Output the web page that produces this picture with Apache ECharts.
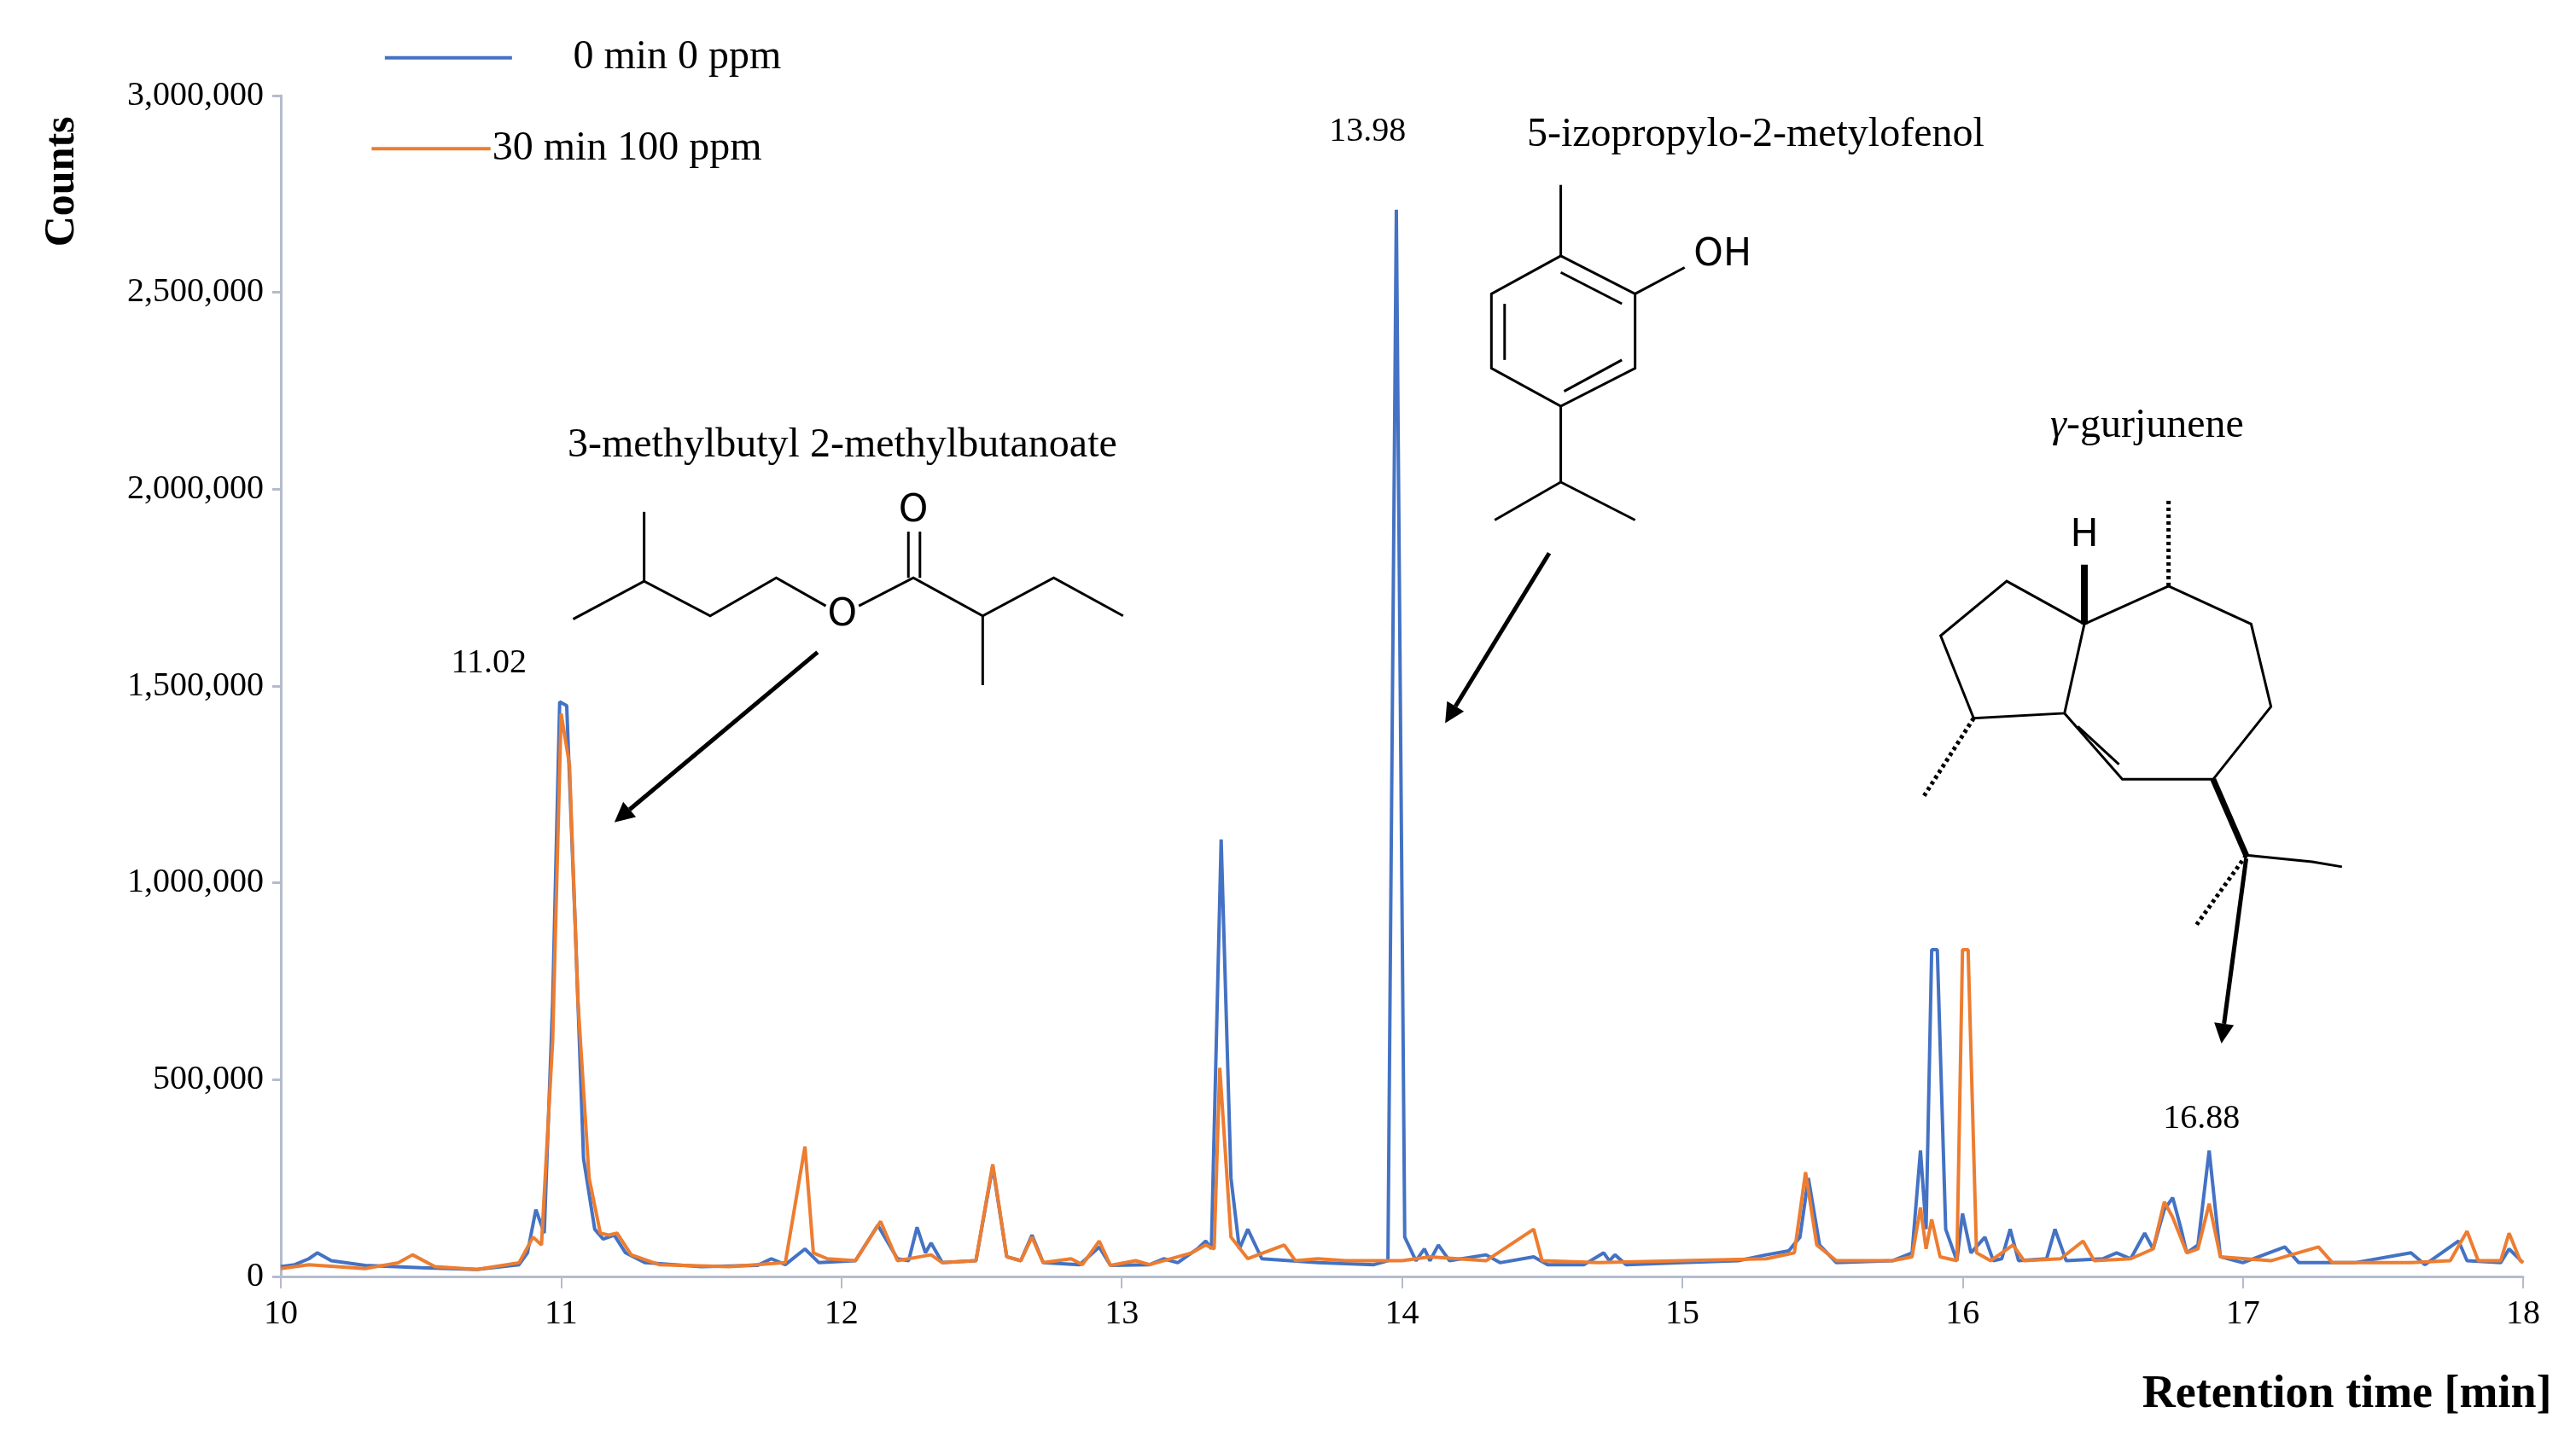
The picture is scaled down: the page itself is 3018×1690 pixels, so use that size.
<!DOCTYPE html>
<html><head><meta charset="utf-8">
<script src="https://cdn.jsdelivr.net/npm/echarts@6/dist/echarts.min.js"></script>
<style>html,body{margin:0;padding:0;background:#fff}#c{width:3018px;height:1690px}</style>
</head><body><div id="c"></div>
<script>
const xTicks = [10,11,12,13,14,15,16,17,18];
const yTicks = [0,500000,1000000,1500000,2000000,2500000,3000000];
const seriesNames = ['0 min 0 ppm','30 min 100 ppm'];
// [retention time, counts]
const blue = [[10,25000],[10.05,30000],[10.1,45000],[10.13,60000],[10.18,40000],[10.3,28000],[10.5,22000],[10.7,18000],[10.85,30000],[10.88,60000],[10.91,170000],[10.94,110000],[10.97,700000],[10.995,1460000],[11.02,1450000],[11.05,900000],[11.08,300000],[11.12,120000],[11.15,95000],[11.19,105000],[11.23,60000],[11.3,35000],[11.5,25000],[11.7,28000],[11.75,45000],[11.8,30000],[11.87,70000],[11.92,35000],[12.05,40000],[12.13,130000],[12.2,45000],[12.24,40000],[12.27,125000],[12.3,60000],[12.32,85000],[12.36,35000],[12.48,40000],[12.54,280000],[12.59,50000],[12.64,40000],[12.68,105000],[12.72,35000],[12.85,30000],[12.92,75000],[12.96,28000],[13.1,30000],[13.15,45000],[13.2,35000],[13.27,70000],[13.3,90000],[13.32,70000],[13.355,1110000],[13.39,250000],[13.42,70000],[13.45,120000],[13.5,45000],[13.7,35000],[13.9,30000],[13.95,40000],[13.98,2710000],[14.01,100000],[14.05,40000],[14.08,70000],[14.1,40000],[14.13,80000],[14.17,40000],[14.3,55000],[14.35,35000],[14.47,50000],[14.52,30000],[14.65,30000],[14.72,60000],[14.74,40000],[14.76,55000],[14.8,30000],[15.0,35000],[15.2,40000],[15.3,55000],[15.38,65000],[15.42,100000],[15.45,250000],[15.49,80000],[15.55,35000],[15.75,40000],[15.82,60000],[15.85,320000],[15.87,120000],[15.89,830000],[15.91,830000],[15.94,120000],[15.98,40000],[16.0,160000],[16.03,60000],[16.08,100000],[16.11,40000],[16.14,45000],[16.17,120000],[16.2,40000],[16.3,45000],[16.33,120000],[16.37,40000],[16.5,45000],[16.55,60000],[16.6,45000],[16.65,110000],[16.68,70000],[16.72,170000],[16.75,200000],[16.78,120000],[16.8,60000],[16.84,80000],[16.88,320000],[16.92,50000],[17.0,35000],[17.15,75000],[17.2,35000],[17.4,35000],[17.6,60000],[17.65,30000],[17.77,90000],[17.8,40000],[17.92,35000],[17.95,70000],[18,35000]];
const orange = [[10,20000],[10.1,30000],[10.3,20000],[10.42,35000],[10.47,55000],[10.55,25000],[10.7,18000],[10.85,35000],[10.9,100000],[10.93,80000],[10.97,600000],[11.0,1430000],[11.03,1300000],[11.06,700000],[11.1,250000],[11.14,110000],[11.17,105000],[11.2,110000],[11.25,55000],[11.35,30000],[11.6,25000],[11.8,35000],[11.87,330000],[11.9,60000],[11.95,45000],[12.05,40000],[12.14,140000],[12.2,40000],[12.32,55000],[12.36,35000],[12.48,40000],[12.54,285000],[12.59,50000],[12.64,40000],[12.68,100000],[12.72,35000],[12.82,45000],[12.86,30000],[12.92,90000],[12.96,28000],[13.05,40000],[13.1,30000],[13.25,60000],[13.3,80000],[13.33,70000],[13.35,530000],[13.39,100000],[13.45,45000],[13.58,80000],[13.62,40000],[13.7,45000],[13.8,40000],[14.0,40000],[14.1,50000],[14.2,45000],[14.3,40000],[14.47,120000],[14.5,40000],[14.7,35000],[15.0,40000],[15.3,45000],[15.4,60000],[15.44,265000],[15.48,80000],[15.55,40000],[15.75,40000],[15.82,50000],[15.85,175000],[15.87,70000],[15.89,145000],[15.92,50000],[15.98,40000],[16.0,830000],[16.02,830000],[16.05,60000],[16.1,40000],[16.18,80000],[16.22,40000],[16.35,45000],[16.43,90000],[16.47,40000],[16.6,45000],[16.68,70000],[16.72,190000],[16.75,150000],[16.8,60000],[16.84,70000],[16.88,185000],[16.92,50000],[17.1,40000],[17.27,75000],[17.32,35000],[17.6,35000],[17.74,40000],[17.8,115000],[17.84,40000],[17.92,40000],[17.95,110000],[17.99,40000],[18,35000]];

const k = 1.935;
const P = (a)=>a.map(p=>[p[0]*k,p[1]*k]);
const ls = {stroke:'#000',lineWidth:3,fill:null};
function pl(pts,extra){return {type:'polyline',shape:{points:P(pts)},style:Object.assign({},ls,extra||{}),z:50};}
function tx(x,y,t,o){return {type:'text',x:x*k,y:y*k,style:Object.assign({text:t,fontFamily:'Liberation Serif',fontSize:48,fill:'#000',align:'center',verticalAlign:'middle'},o||{}),z:50};}
function arrow(x1,y1,x2,y2){
  const ang=Math.atan2(y2-y1,x2-x1), L=12, W=6;
  const bx=x2-L*Math.cos(ang), by=y2-L*Math.sin(ang);
  return [pl([[x1,y1],[bx,by]],{lineWidth:5}),
    {type:'polygon',shape:{points:P([[x2,y2],[bx+W*Math.sin(ang),by-W*Math.cos(ang)],[bx-W*Math.sin(ang),by+W*Math.cos(ang)]])},style:{fill:'#000'},z:50}];
}
const sans = {fontFamily:'DejaVu Sans',fontSize:44};
const graphics = [
  pl([[233,35],[310,35]],{stroke:'#4472c4',lineWidth:4}), tx(347,35,seriesNames[0],{align:'left'}),
  pl([[225,90],[297,90]],{stroke:'#ed7d31',lineWidth:4}), tx(298,90,seriesNames[1],{align:'left'}),
  {type:'text',x:38*k,y:110*k,rotation:Math.PI/2,style:{text:'Counts',fontFamily:'Liberation Serif',fontWeight:'bold',fontSize:50,fill:'#000',align:'center',verticalAlign:'middle'},z:50},
  tx(510,270,'3-methylbutyl 2-methylbutanoate'),
  tx(296,402,'11.02',{fontSize:40}), tx(828,80,'13.98',{fontSize:40}),
  tx(1063,82,'5-izopropylo-2-metylofenol'),
  tx(1300,258,'{i|γ}-gurjunene',{rich:{i:{fontStyle:'italic',fontFamily:'Liberation Serif',fontSize:48}}}),
  tx(1333,678,'16.88',{fontSize:40}),
  // ester
  pl([[347,375],[390,352],[430,373],[470,350],[500,367]]), pl([[520,367],[553,350],[595,373],[638,350],[680,373]]),
  pl([[390,352],[390,310]]), pl([[595,373],[595,415]]),
  pl([[550,350],[550,322]]), pl([[557,350],[557,322]]),
  tx(553,310,'O',sans), tx(510,373,'O',sans),
  // thymol
  pl([[945,155],[990,178],[990,223],[945,246],[903,223],[903,178],[945,155]]),
  pl([[945,165],[982,184]]), pl([[982,218],[947,237]]), pl([[911,184],[911,218]]),
  pl([[945,155],[945,112]]), pl([[990,178],[1020,162]]), tx(1043,155,'OH',sans),
  pl([[945,246],[945,292]]), pl([[945,292],[905,315]]), pl([[945,292],[990,315]]),
  // gurjunene
  pl([[1262,378],[1215,352],[1175,385],[1195,435],[1250,432],[1262,378]]),
  pl([[1262,378],[1313,355],[1363,378],[1375,428],[1340,472],[1285,472],[1250,432]]),
  pl([[1258,440],[1283,463]]),
  pl([[1313,355],[1313,302]],{lineDash:[4,4],lineWidth:5}),
  pl([[1262,378],[1262,342]],{lineWidth:8}), tx(1262,325,'H',sans),
  pl([[1195,435],[1165,482]],{lineDash:[4,4],lineWidth:5}),
  pl([[1340,472],[1360,518]],{lineWidth:7}), pl([[1360,518],[1400,522],[1418,525]]),
  pl([[1360,518],[1330,560]],{lineDash:[4,4],lineWidth:5}),
  ...arrow(495,395,372,498), ...arrow(938,335,875,438), ...arrow(1360,520,1345,632),
  {type:'text',x:1545*k,y:845*k,style:{text:'Retention time [min]',fontFamily:'Liberation Serif',fontWeight:'bold',fontSize:54,fill:'#000',align:'right',verticalAlign:'middle'},z:50}
];

const chart = echarts.init(document.getElementById('c'));
chart.setOption({
  animation:false,
  grid:{left:329,right:62,top:112,bottom:194},
  xAxis:{type:'value',min:10,max:18,interval:1,
    axisLine:{lineStyle:{color:'#b4bccc',width:3}},axisTick:{length:14,lineStyle:{color:'#b4bccc',width:2}},
    splitLine:{show:false},
    axisLabel:{color:'#000',fontFamily:'Liberation Serif',fontSize:40,margin:24}},
  yAxis:{type:'value',min:0,max:3000000,interval:500000,
    axisLine:{show:true,lineStyle:{color:'#b4bccc',width:3}},axisTick:{show:true,length:10,lineStyle:{color:'#b4bccc',width:3}},
    splitLine:{show:false},
    axisLabel:{color:'#000',fontFamily:'Liberation Serif',fontSize:40,margin:20,formatter:v=>v.toLocaleString('en-US')}},
  series:[
    {name:seriesNames[0],type:'line',data:blue,symbol:'none',lineStyle:{color:'#4472c4',width:4},z:3},
    {name:seriesNames[1],type:'line',data:orange,symbol:'none',lineStyle:{color:'#ed7d31',width:4},z:4}
  ],
  graphic:graphics
});
</script></body></html>
